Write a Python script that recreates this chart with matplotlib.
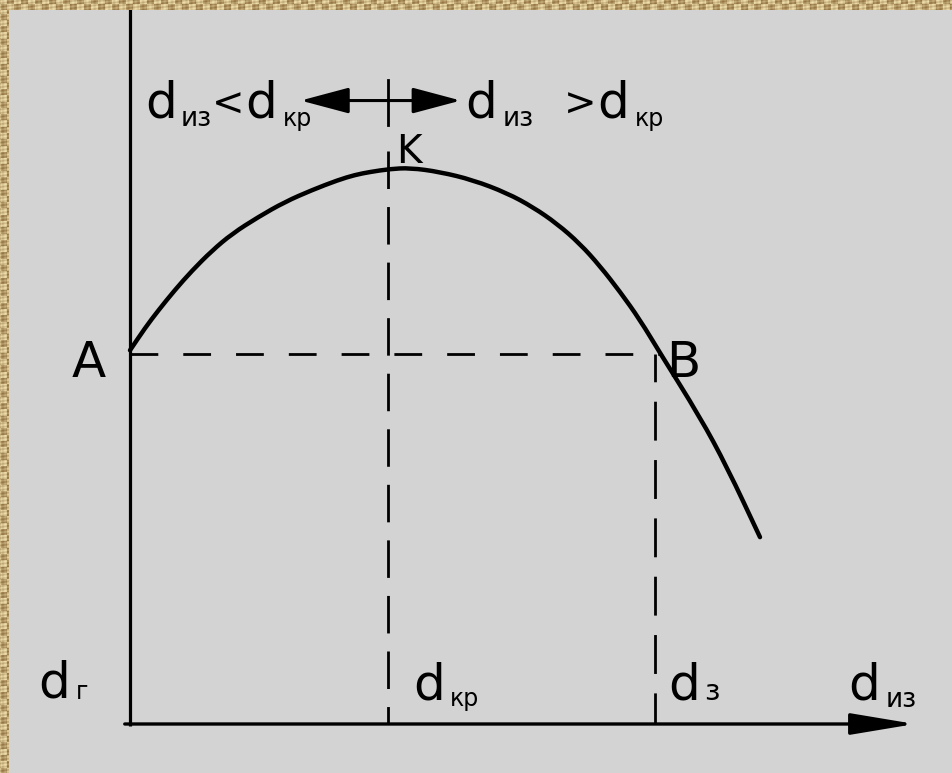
import numpy as np
import matplotlib
matplotlib.use("Agg")
import matplotlib.pyplot as plt
from matplotlib.path import Path
from matplotlib.patches import PathPatch

plt.rcParams['font.family'] = ['DejaVu Sans']
plt.rcParams['lines.scale_dashes'] = False

# ---- data ----
curve_x = [0, 0.57, 1.07, 1.71, 2.36, 3.12, 3.89, 4.88, 5.90, 6.93, 7.92, 8.57, 9.14, 9.90,
           10.67, 11.81, 13.07, 14.36, 15.35, 16.27, 17.14, 17.90, 18.67, 19.43, 20.19,
           21.71, 22.74, 24.0]
curve_y = [10.1, 10.7, 11.17, 11.73, 12.25, 12.79, 13.25, 13.70, 14.11, 14.43, 14.70, 14.84,
           14.92, 15.0, 15.03, 14.92, 14.70, 14.35, 13.97, 13.52, 12.98, 12.38, 11.68, 10.92,
           10.03, 8.30, 6.95, 5.05]
d_g = 0.0        # A abscissa
d_kr = 9.83      # K abscissa
d_z = 20.0       # B abscissa
level_AB = 10.0
peak_K = 15.0
point_labels = ["A", "K", "B"]
axis_labels = ["d", "г", "кр", "з", "из"]

W, H = 953, 773
BG = "#d3d3d3"
fig = plt.figure(figsize=(W / 100, H / 100), dpi=100, facecolor=BG)
ax = fig.add_axes([0, 0, 1, 1])
ax.set_facecolor(BG)
ax.axis("off")
# pixel mapping: x_px = 130 + 26.25*x ; y_px = 724 - 37*y
ax.set_xlim(-130 / 26.25, (W - 130) / 26.25)
ax.set_ylim((724 - H) / 37, 724 / 37)

K = "black"
# axes
ax.plot([0, 0], [-0.05, 19.5], color=K, lw=2.3, solid_capstyle="butt")
ax.annotate("", xy=(29.9, 0), xytext=(-0.2, 0),
            arrowprops=dict(arrowstyle="-|>,head_length=1.8,head_width=0.3",
                            color=K, lw=2.4, shrinkA=0, shrinkB=0, mutation_scale=22))

# curve: smooth quadratic rendering through the read points (midpoint scheme)
pts = np.column_stack([curve_x, curve_y])
verts = [pts[0], (pts[0] + pts[1]) / 2]
codes = [Path.MOVETO, Path.LINETO]
for i in range(1, len(pts) - 1):
    verts += [pts[i], (pts[i] + pts[i + 1]) / 2]
    codes += [Path.CURVE3, Path.CURVE3]
verts.append(pts[-1])
codes.append(Path.LINETO)
ax.add_patch(PathPatch(Path(verts, codes), fill=False, edgecolor=K, lw=3.2,
                       capstyle="round", joinstyle="round"))

# dashed helper lines
ax.plot([d_g, d_z + 0.2], [level_AB, level_AB], color=K, lw=2.0,
        linestyle=(0, (20, 18)))
ax.plot([d_kr, d_kr], [15.5, 0], color=K, lw=2.0, linestyle=(0, (27, 13)))
ax.plot([d_z, d_z], [level_AB, 0], color=K, lw=2.0, linestyle=(8, (28, 14)))

# double arrow on top with tick
ax.annotate("", xy=(6.5, 16.85), xytext=(12.6, 16.85),
            arrowprops=dict(arrowstyle="<|-|>,head_length=1.5,head_width=0.4",
                            color=K, lw=2.2, shrinkA=0, shrinkB=0, mutation_scale=20))
ax.plot([d_kr, d_kr], [17.4, 16.2], color=K, lw=2.0)


def px(x, y):
    return x / W, 1 - y / H


def t(x, y, s, size):
    fig.text(*px(x, y), s, fontsize=size, color=K, va="baseline", ha="left")


# top inequality labels
t(145, 118, axis_labels[0], 36)
t(181, 126, axis_labels[4], 19)
t(212, 116, "<", 28)
t(245, 118, axis_labels[0], 36)
t(283, 126, axis_labels[2], 17)

t(465, 118, axis_labels[0], 36)
t(503, 126, axis_labels[4], 19)
t(564, 116, ">", 28)
t(597, 118, axis_labels[0], 36)
t(635, 126, axis_labels[2], 17)

# point labels
t(396, 163, point_labels[1], 28)
t(72, 377, point_labels[0], 36)
t(666, 377, point_labels[2], 36)

# bottom axis labels
t(38, 698, axis_labels[0], 36)
t(76, 699, axis_labels[1], 17)
t(413, 700, axis_labels[0], 36)
t(450, 706, axis_labels[2], 17)
t(668, 700, axis_labels[0], 36)
t(704, 700, axis_labels[3], 21)
t(848, 700, axis_labels[0], 36)
t(886, 707, axis_labels[4], 19)


# textured golden frame (top and left), woven look
def texture(h, w):
    yy, xx = np.mgrid[0:h, 0:w]
    v = 0.55 + 0.22 * np.sign(np.sin(xx * 0.45)) * np.sign(np.cos(yy * 0.5)) \
        + 0.15 * np.sin(xx * 0.23 + yy * 1.7) + 0.1 * np.cos(xx * 1.3)
    light = np.array([238, 222, 172]) / 255
    dark = np.array([140, 108, 58]) / 255
    v = np.clip(v, 0, 1)[..., None]
    return light * v + dark * (1 - v)


top = fig.add_axes([0, 1 - 10 / H, 1, 10 / H])
top.imshow(texture(10, W), aspect="auto", interpolation="nearest")
top.axis("off")
left = fig.add_axes([0, 0, 9 / W, 1 - 10 / H])
left.imshow(texture(H - 10, 9), aspect="auto", interpolation="nearest")
left.axis("off")

fig.savefig("out.png", dpi=100, facecolor=BG)
